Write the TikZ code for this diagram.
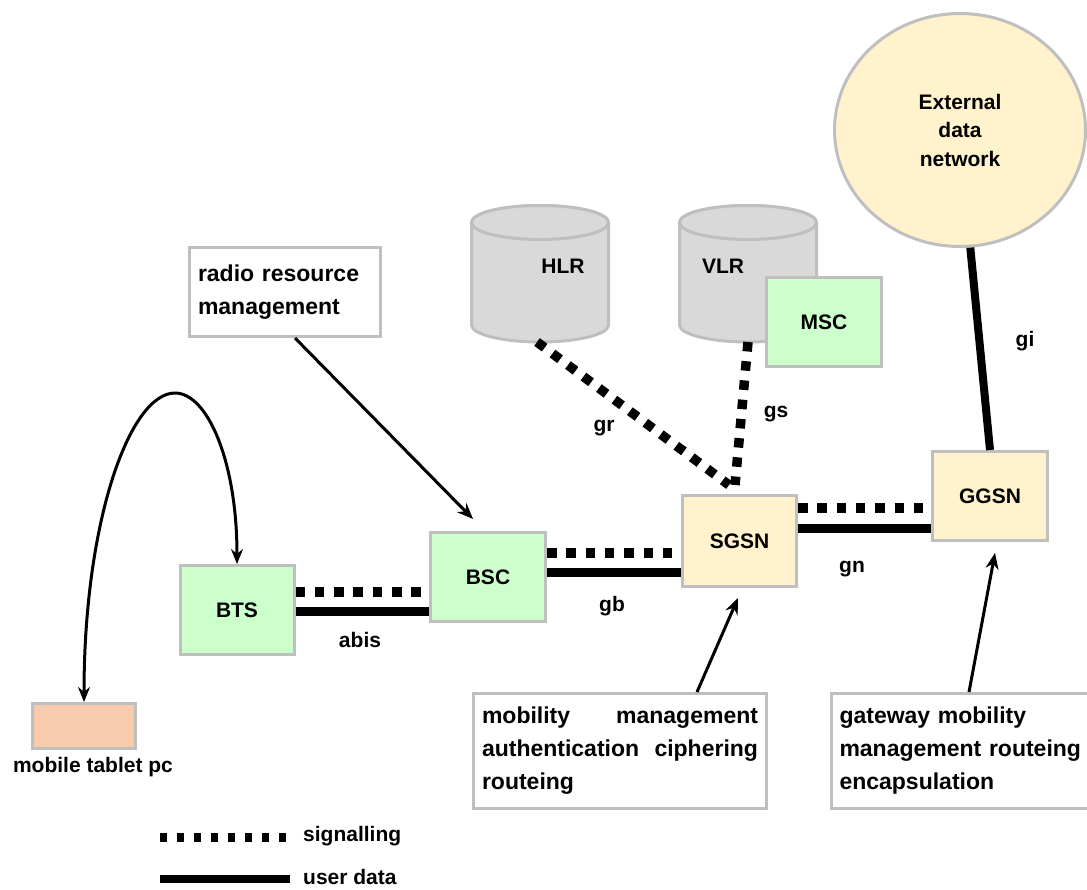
\documentclass[tikz,border=0pt]{standalone}
\usepackage{fontspec}
\setmainfont{Liberation Sans}
\usetikzlibrary{arrows.meta,shapes.geometric}

\definecolor{boxgreen}{HTML}{CCFFCC}
\definecolor{boxyellow}{HTML}{FFF2CC}
\definecolor{boxpeach}{HTML}{F8CBAD}
\definecolor{dbgray}{HTML}{D9D9D9}
\definecolor{edgegray}{HTML}{BFBFBF}

\tikzset{
  elem/.style={draw=edgegray, line width=3pt, inner sep=0pt,
    minimum width=115pt, minimum height=89pt},
  greenelem/.style={elem, fill=boxgreen},
  yellowelem/.style={elem, fill=boxyellow},
  notebox/.style={draw=edgegray, line width=3pt, fill=white, inner xsep=8.5pt,
    inner ysep=0pt, align=left, font=\bfseries\fontsize{23}{33}\selectfont},
  signal/.style={line width=9.5pt, dash pattern=on 9.5pt off 9.8pt, line cap=butt},
  udata/.style={line width=9pt, line cap=butt},
  pointer/.style={line width=3pt, -{Stealth[length=16pt,width=13pt]}},
  ilabel/.style={inner sep=0pt},
}

\begin{document}
\begin{tikzpicture}[x=1pt, y=-1pt, font=\bfseries\fontsize{21}{25}\selectfont]
\useasboundingbox (0,0) rectangle (1087,889);

% database cylinders
\foreach \cx in {540,748}{
  \filldraw[fill=dbgray, draw=edgegray, line width=3pt]
    (\cx-68.5,222.5) -- (\cx-68.5,325)
    arc[start angle=180, end angle=360, x radius=68.5pt, y radius=17pt]
    -- (\cx+68.5,222.5)
    arc[start angle=0, end angle=180, x radius=68.5pt, y radius=17pt] -- cycle;
  \filldraw[fill=dbgray, draw=edgegray, line width=3pt]
    (\cx,222.5) ellipse[x radius=68.5pt, y radius=17pt];
}
\node[ilabel] (hlr) at (563,266) {HLR};
\node[ilabel] (vlr) at (723,266) {VLR};
\coordinate (hlrbase) at (537,342);
\coordinate (vlrbase) at (748,342);

% network elements
\node[greenelem] (msc) at (824,322) {MSC};
\node[greenelem, minimum width=114pt] (bts) at (237,610) {BTS};
\node[greenelem] (bsc) at (488,577) {BSC};
\node[yellowelem, minimum width=114pt, minimum height=91pt] (sgsn) at (739.5,541) {SGSN};
\node[yellowelem] (ggsn) at (990,496) {GGSN};
\node[draw=edgegray, line width=3pt, fill=boxpeach, minimum width=103pt,
  minimum height=45pt, inner sep=0pt] (mob) at (84,726) {};
\node[ilabel] (moblabel) at (93,767) {mobile tablet pc};
\node[ellipse, draw=edgegray, line width=3pt, fill=boxyellow, minimum width=251pt,
  minimum height=233pt, inner sep=0pt, align=center,
  font=\bfseries\fontsize{21}{28.5}\selectfont] (ext) at (960,130)
  {External\\data\\network};

% explanatory boxes
\node[notebox, text width=174pt, minimum height=89pt] (rrm) at (285,292)
  {radio resource\\management};
\node[notebox, text width=276pt, minimum height=115pt] (mm) at (620,751)
  {mobility\hfill management\\authentication\hfill ciphering\\routeing};
\node[notebox, text width=263pt, minimum height=115pt, anchor=west] (gw) at (829.5,751)
  {gateway mobility\\management routeing\\encapsulation};

% interfaces
\draw[signal] ([yshift=18pt]bts.east) -- ([yshift=18pt]bts.east -| bsc.west);
\draw[udata] ([yshift=-1pt]bts.east) -- ([yshift=-1pt]bts.east -| bsc.west);
\draw[signal] ([yshift=24pt]bsc.east) -- ([yshift=24pt]bsc.east -| sgsn.west);
\draw[udata] ([yshift=5pt]bsc.east) -- ([yshift=5pt]bsc.east -| sgsn.west);
\draw[signal] ([yshift=33pt]sgsn.east) -- ([yshift=33pt]sgsn.east -| ggsn.west);
\draw[udata] ([yshift=13pt]sgsn.east) -- ([yshift=13pt]sgsn.east -| ggsn.west);

\coordinate (grend) at (729,485);
\coordinate (gsend) at (735,485);
\draw[signal] (hlrbase) -- (grend);
\draw[signal] (vlrbase) -- (gsend);
\draw[line width=8pt] (ext.-85) -- (ggsn.north);

\node[ilabel] (labis) at (360,640) {abis};
\node[ilabel] (lgb) at (612,606) {gb};
\node[ilabel] (lgn) at (852,569) {gn};
\node[ilabel] (lgr) at (604,428) {gr};
\node[ilabel] (lgs) at (776,414) {gs};
\node[ilabel] (lgi) at (1025,341) {gi};

% function pointers
\coordinate (rrmtip) at (473,519);
\coordinate (gwfoot) at (969,692);
\draw[pointer] ([xshift=10pt]rrm.south) -- (rrmtip);
\draw[pointer] ([xshift=77pt]mm.north) -- ([xshift=-1.5pt,yshift=-10pt]sgsn.south);
\draw[pointer] (gwfoot) -- ([xshift=5pt,yshift=-11pt]ggsn.south);

% radio link
\draw[line width=3pt, {Stealth[length=15pt,width=12pt]}-{Stealth[length=15pt,width=12pt]}]
  (mob.north) .. controls (84,520) and (130,393) .. (175,393)
  .. controls (207,393) and (237,460) .. (bts.north);

% legend
\coordinate (sigA) at (160,837);
\coordinate (sigB) at (286,837);
\coordinate (udA) at (160,879);
\coordinate (udB) at (290,879);
\draw[line width=9pt, dash pattern=on 7pt off 10pt] (sigA) -- (sigB);
\draw[udata, line width=8pt] (udA) -- (udB);
\node[ilabel, anchor=west] (lsig) at (303,836) {signalling};
\node[ilabel, anchor=base west] (lud) at (303,884) {user data};
\end{tikzpicture}
\end{document}
